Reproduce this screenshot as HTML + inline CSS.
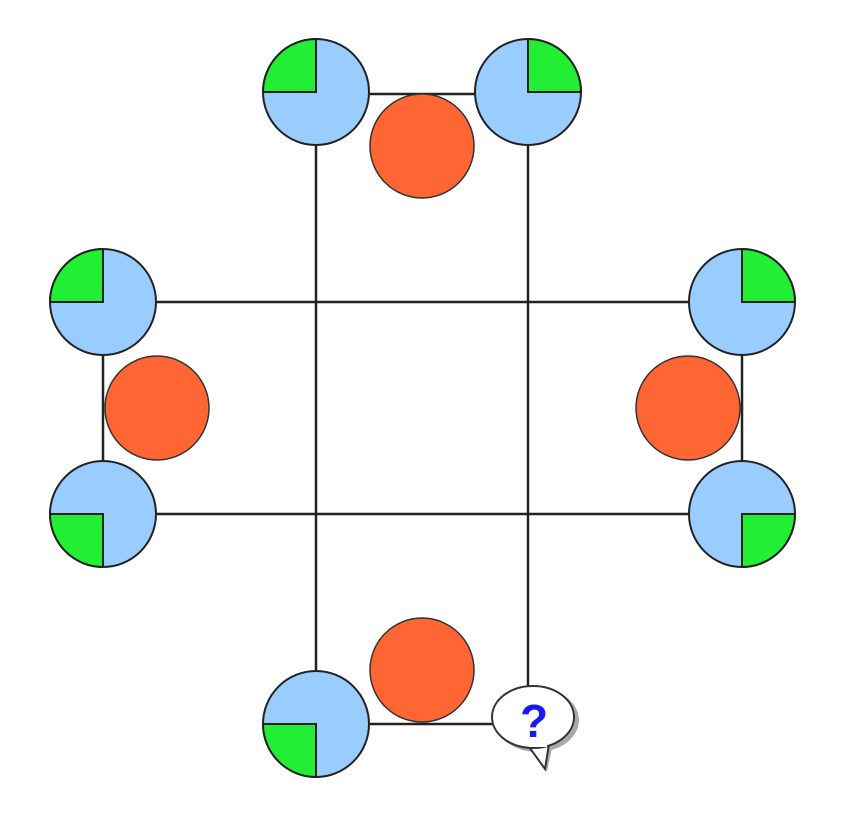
<!DOCTYPE html>
<html><head><meta charset="utf-8"><style>html,body{margin:0;padding:0;background:#fff}</style></head>
<body>
<svg width="848" height="828" viewBox="0 0 848 828" xmlns="http://www.w3.org/2000/svg">
<g stroke="#222" stroke-width="2.5" fill="none">
<line x1="316" y1="92" x2="316" y2="724"/>
<line x1="528" y1="92" x2="528" y2="690"/>
<line x1="103" y1="302" x2="742" y2="302"/>
<line x1="103" y1="514" x2="742" y2="514"/>
<line x1="316" y1="94" x2="528" y2="94"/>
<line x1="316" y1="724" x2="500" y2="724"/>
<line x1="103" y1="302" x2="103" y2="514"/>
<line x1="742" y1="302" x2="742" y2="514"/>
</g>
<g id="nodes"></g>
<g>
<ellipse cx="537" cy="720" rx="42" ry="32" fill="#aaa"/>
<path d="M530 746 L547 772 L552 748 Z" fill="#aaa"/>
<path d="M527 744 L545 769 L549 744 Z" fill="#fff" stroke="#333" stroke-width="2"/>
<ellipse cx="533" cy="717" rx="41" ry="31" fill="#fff" stroke="#333" stroke-width="2"/>
<path d="M529 745 L547 745" stroke="#fff" stroke-width="4"/>
<text x="534" y="737" text-anchor="middle" font-family="Liberation Sans, sans-serif" font-weight="bold" font-size="46" fill="#1a1aee">?</text>
</g>
</svg>
<script>
const g=document.getElementById('nodes');
const NS='http://www.w3.org/2000/svg';
const oranges=[[422,146],[157,408],[688,408],[422,670]];
const blues=[[316,92,'tl'],[528,92,'tr'],[103,302,'tl'],[742,302,'tr'],[103,514,'bl'],[742,514,'br'],[316,724,'bl']];
const R=53;
oranges.forEach(([x,y],i)=>{
const c=document.createElementNS(NS,'circle');
c.setAttribute('cx',x);c.setAttribute('cy',y);c.setAttribute('r',52);
c.setAttribute('fill','#ff6633');c.setAttribute('stroke','#333');c.setAttribute('stroke-width','1.5');


g.appendChild(c);
});
blues.forEach(([x,y,q])=>{
const grp=document.createElementNS(NS,'g');


const c=document.createElementNS(NS,'circle');
c.setAttribute('cx',x);c.setAttribute('cy',y);c.setAttribute('r',R);
c.setAttribute('fill','#99ccff');c.setAttribute('stroke','#222');c.setAttribute('stroke-width','2');
grp.appendChild(c);
const sx=q[1]==='l'?-1:1, sy=q[0]==='t'?-1:1;
const sweep=(sx*sy>0)?1:0;
const p=document.createElementNS(NS,'path');
p.setAttribute('d',`M${x} ${y} L${x+sx*R} ${y} A${R} ${R} 0 0 ${sweep} ${x} ${y+sy*R} Z`);
p.setAttribute('fill','#22ee33');p.setAttribute('stroke','#222');p.setAttribute('stroke-width','2');
grp.appendChild(p);
g.appendChild(grp);
});
</script>
</body></html>
